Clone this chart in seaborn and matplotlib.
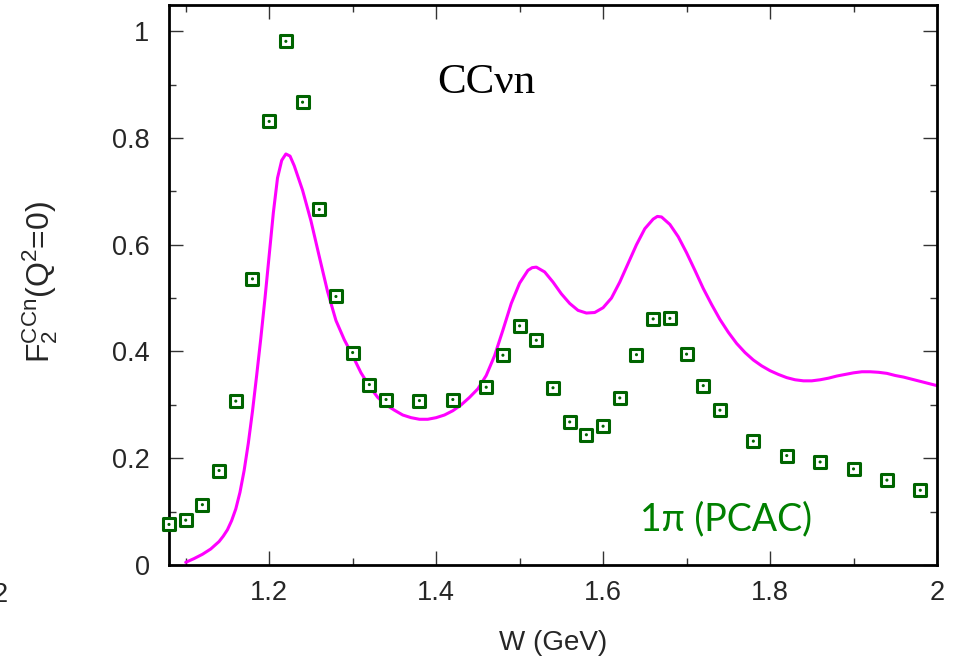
import matplotlib
matplotlib.use("Agg")
import matplotlib.pyplot as plt
from matplotlib.ticker import MultipleLocator, FixedLocator
import seaborn as sns
import pandas as pd

# 1pi (PCAC) points
w_pts = [1.08, 1.10, 1.12, 1.14, 1.16, 1.18, 1.20, 1.22, 1.24, 1.26, 1.28, 1.30,
         1.32, 1.34, 1.38, 1.42, 1.46, 1.48, 1.50, 1.52, 1.54, 1.56, 1.58, 1.60,
         1.62, 1.64, 1.66, 1.68, 1.70, 1.72, 1.74, 1.78, 1.82, 1.86, 1.90, 1.94, 1.98]
f2_pts = [0.076, 0.084, 0.113, 0.177, 0.307, 0.536, 0.831, 0.981, 0.867, 0.666, 0.503, 0.398,
          0.338, 0.310, 0.308, 0.310, 0.333, 0.393, 0.448, 0.421, 0.332, 0.268, 0.244, 0.260,
          0.313, 0.394, 0.461, 0.462, 0.395, 0.336, 0.290, 0.232, 0.205, 0.193, 0.180, 0.159, 0.140]

# model curve
w_curve = [1.100, 1.110, 1.120, 1.130, 1.140, 1.145, 1.150, 1.155, 1.160, 1.165, 1.170, 1.175,
           1.180, 1.185, 1.190, 1.195, 1.200, 1.205, 1.210, 1.215, 1.220, 1.225, 1.230,
           1.240, 1.250, 1.260, 1.270, 1.280, 1.290,
           1.300, 1.310, 1.320, 1.330, 1.340, 1.350, 1.360, 1.370, 1.380, 1.390, 1.400,
           1.410, 1.420, 1.430, 1.440, 1.450, 1.460, 1.470, 1.480, 1.490, 1.500, 1.510,
           1.515, 1.520, 1.530, 1.540, 1.550, 1.560, 1.570, 1.580, 1.590, 1.600, 1.610,
           1.620, 1.630, 1.640, 1.650, 1.660, 1.665, 1.670, 1.680, 1.690, 1.700, 1.710,
           1.720, 1.730, 1.740, 1.750, 1.760, 1.770, 1.780, 1.790, 1.800, 1.810, 1.820,
           1.830, 1.840, 1.850, 1.860, 1.870, 1.880, 1.890, 1.900, 1.910, 1.920, 1.930,
           1.940, 1.950, 1.960, 1.970, 1.980, 1.990, 2.000]
f2_curve = [0.005, 0.012, 0.020, 0.030, 0.044, 0.054, 0.066, 0.083, 0.105, 0.136, 0.177, 0.228,
            0.288, 0.355, 0.425, 0.500, 0.580, 0.660, 0.725, 0.758, 0.770, 0.766, 0.748,
            0.702, 0.645, 0.578, 0.512, 0.458, 0.422,
            0.392, 0.360, 0.335, 0.314, 0.300, 0.290, 0.281, 0.276, 0.273, 0.273, 0.276,
            0.281, 0.289, 0.300, 0.314, 0.330, 0.355, 0.392, 0.440, 0.490, 0.528, 0.552,
            0.557, 0.558, 0.549, 0.530, 0.508, 0.490, 0.477, 0.472, 0.473, 0.482, 0.500,
            0.530, 0.565, 0.600, 0.630, 0.648, 0.653, 0.652, 0.638, 0.615, 0.585, 0.552,
            0.518, 0.488, 0.460, 0.436, 0.415, 0.398, 0.384, 0.373, 0.364, 0.357, 0.351,
            0.347, 0.345, 0.345, 0.347, 0.350, 0.354, 0.357, 0.360, 0.362, 0.362, 0.361,
            0.359, 0.355, 0.352, 0.348, 0.344, 0.340, 0.336]

x_ticks = [1.2, 1.4, 1.6, 1.8, 2.0]
x_ticklabels = ["1.2", "1.4", "1.6", "1.8", "2"]
y_ticks = [0, 0.2, 0.4, 0.6, 0.8, 1.0]
y_ticklabels = ["0", "0.2", "0.4", "0.6", "0.8", "1"]

sns.set_style("ticks")
plt.rcParams["font.family"] = ["Liberation Sans", "DejaVu Sans"]
plt.rcParams["mathtext.fontset"] = "custom"
plt.rcParams["mathtext.rm"] = "Liberation Sans"
plt.rcParams["mathtext.default"] = "regular"

pts = pd.DataFrame({"W": w_pts, "F2": f2_pts})
curve = pd.DataFrame({"W": w_curve, "F2": f2_curve})

fig = plt.figure(figsize=(9.59, 6.61), dpi=100)
ax = fig.add_axes([169 / 959, 96 / 661, 768 / 959, 560.5 / 661])

sns.lineplot(data=curve, x="W", y="F2", ax=ax, color="#ff00ff", lw=2.2,
             sort=False, zorder=2)
sns.scatterplot(data=pts, x="W", y="F2", ax=ax, marker="s", s=80,
                facecolor="white", edgecolor="#006400", linewidth=2.2,
                zorder=3, clip_on=False)
sns.scatterplot(data=pts, x="W", y="F2", ax=ax, marker="o", s=5,
                color="#006400", edgecolor="none", zorder=4, clip_on=False)

ax.set_xlim(1.08, 2.0)
ax.set_ylim(0, 1.05)
ax.xaxis.set_major_locator(FixedLocator(x_ticks))
ax.set_xticklabels(x_ticklabels)
ax.yaxis.set_major_locator(FixedLocator(y_ticks))
ax.set_yticklabels(y_ticklabels)
ax.xaxis.set_minor_locator(MultipleLocator(0.1))
ax.yaxis.set_minor_locator(MultipleLocator(0.1))
ax.tick_params(which="both", direction="in", top=True, right=True,
               width=1, color="#333333", labelsize=19.5)
ax.tick_params(which="major", length=10)
ax.tick_params(which="minor", length=5)
ax.tick_params(axis="x", pad=11)
ax.tick_params(axis="y", pad=14)
for sp in ax.spines.values():
    sp.set_linewidth(2)
    sp.set_color("black")

ax.set_xlabel("W (GeV)", fontsize=20)
ax.set_ylabel(r"F$_2^{\rm CCn}$(Q$^2$=0)", fontsize=23)
ax.xaxis.set_label_coords(0.5, -0.116)
ax.yaxis.set_label_coords(-0.142, 0.505)

ax.text(1.401, 0.884, "CC\u03bdn", family=["Liberation Serif", "DejaVu Serif"],
        fontsize=31, va="baseline", ha="left", color="black")
ax.text(1.644, 0.0655, "1\u03c0 (PCAC)", family=["Lato", "DejaVu Sans"],
        fontsize=27, va="baseline", ha="left", color="#008000")

fig.text(8 / 959, (661 - 602) / 661, "2", fontsize=19.5, ha="right", va="baseline")

fig.savefig("out.png", dpi=100)
